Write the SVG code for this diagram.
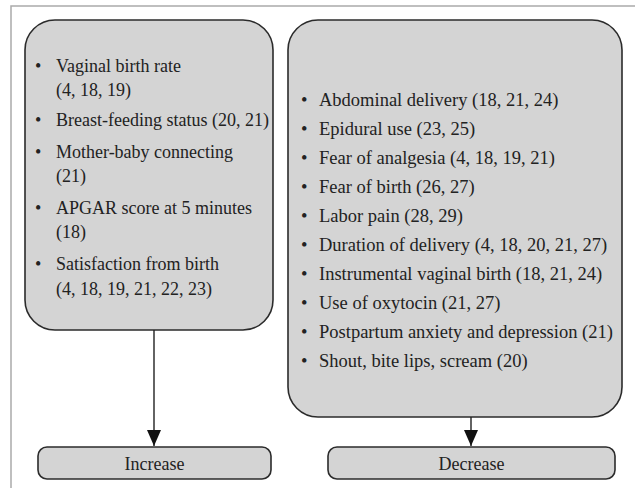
<svg xmlns="http://www.w3.org/2000/svg" width="635" height="488" viewBox="0 0 635 488">
<style>
.box{fill:#d4d4d4;stroke:#2b2b2b;stroke-width:1.6}
.conn{stroke:#222;stroke-width:1.4;fill:none}
</style>
<defs>
<marker id="ah" markerWidth="16" markerHeight="14" refX="16" refY="7" orient="auto" markerUnits="userSpaceOnUse" viewBox="0 0 16 14">
<path d="M0,0 L16,7 L0,14 Z" fill="#111"/>
</marker>
</defs>
<rect width="635" height="488" fill="#fff"/>
<path d="M11,488 V6 H635" fill="none" stroke="#aaa" stroke-width="1.5"/>
<g id="increase-factors">
<rect class="box" x="25" y="20" width="248" height="310" rx="30" ry="30"/>
<text x="35" y="72" font-family="Liberation Serif" font-size="18" fill="#222">•</text>
<text x="56" y="72" font-family="Liberation Serif" font-size="18" fill="#222">Vaginal birth rate</text>
<text x="56" y="96" font-family="Liberation Serif" font-size="18" fill="#222">(4, 18, 19)</text>
<text x="35" y="126" font-family="Liberation Serif" font-size="18" fill="#222">•</text>
<text x="56" y="126" font-family="Liberation Serif" font-size="18" fill="#222">Breast-feeding status (20, 21)</text>
<text x="35" y="158" font-family="Liberation Serif" font-size="18" fill="#222">•</text>
<text x="56" y="158" font-family="Liberation Serif" font-size="18" fill="#222">Mother-baby connecting</text>
<text x="56" y="182" font-family="Liberation Serif" font-size="18" fill="#222">(21)</text>
<text x="35" y="214" font-family="Liberation Serif" font-size="18" fill="#222">•</text>
<text x="56" y="214" font-family="Liberation Serif" font-size="18" fill="#222">APGAR score at 5 minutes</text>
<text x="56" y="238" font-family="Liberation Serif" font-size="18" fill="#222">(18)</text>
<text x="35" y="270" font-family="Liberation Serif" font-size="18" fill="#222">•</text>
<text x="56" y="270" font-family="Liberation Serif" font-size="18" fill="#222">Satisfaction from birth</text>
<text x="56" y="295" font-family="Liberation Serif" font-size="18" fill="#222">(4, 18, 19, 21, 22, 23)</text>
</g>
<g id="decrease-factors">
<rect class="box" x="288" y="20" width="334" height="397" rx="30" ry="30"/>
<text x="301" y="106" font-family="Liberation Serif" font-size="18.5" fill="#222">•</text>
<text x="319" y="106" font-family="Liberation Serif" font-size="18.5" fill="#222">Abdominal delivery (18, 21, 24)</text>
<text x="301" y="135" font-family="Liberation Serif" font-size="18.5" fill="#222">•</text>
<text x="319" y="135" font-family="Liberation Serif" font-size="18.5" fill="#222">Epidural use (23, 25)</text>
<text x="301" y="164" font-family="Liberation Serif" font-size="18.5" fill="#222">•</text>
<text x="319" y="164" font-family="Liberation Serif" font-size="18.5" fill="#222">Fear of analgesia (4, 18, 19, 21)</text>
<text x="301" y="193" font-family="Liberation Serif" font-size="18.5" fill="#222">•</text>
<text x="319" y="193" font-family="Liberation Serif" font-size="18.5" fill="#222">Fear of birth (26, 27)</text>
<text x="301" y="222" font-family="Liberation Serif" font-size="18.5" fill="#222">•</text>
<text x="319" y="222" font-family="Liberation Serif" font-size="18.5" fill="#222">Labor pain (28, 29)</text>
<text x="301" y="251" font-family="Liberation Serif" font-size="18.5" fill="#222">•</text>
<text x="319" y="251" font-family="Liberation Serif" font-size="18.5" fill="#222">Duration of delivery (4, 18, 20, 21, 27)</text>
<text x="301" y="280" font-family="Liberation Serif" font-size="18.5" fill="#222">•</text>
<text x="319" y="280" font-family="Liberation Serif" font-size="18.5" fill="#222">Instrumental vaginal birth (18, 21, 24)</text>
<text x="301" y="309" font-family="Liberation Serif" font-size="18.5" fill="#222">•</text>
<text x="319" y="309" font-family="Liberation Serif" font-size="18.5" fill="#222">Use of oxytocin (21, 27)</text>
<text x="301" y="338" font-family="Liberation Serif" font-size="18.5" fill="#222">•</text>
<text x="319" y="338" font-family="Liberation Serif" font-size="18.5" fill="#222">Postpartum anxiety and depression (21)</text>
<text x="301" y="367" font-family="Liberation Serif" font-size="18.5" fill="#222">•</text>
<text x="319" y="367" font-family="Liberation Serif" font-size="18.5" fill="#222">Shout, bite lips, scream (20)</text>
</g>
<g id="increase">
<rect class="box" x="38" y="447" width="233" height="32" rx="9" ry="9"/>
<text x="154.5" y="470" text-anchor="middle" font-family="Liberation Serif" font-size="18" fill="#222">Increase</text>
</g>
<g id="decrease">
<rect class="box" x="328" y="447" width="287" height="32" rx="9" ry="9"/>
<text x="471.5" y="470" text-anchor="middle" font-family="Liberation Serif" font-size="18" fill="#222">Decrease</text>
</g>
<g id="connectors">
<line class="conn" x1="154" y1="330" x2="154" y2="446" marker-end="url(#ah)"/>
<line class="conn" x1="471" y1="417" x2="471" y2="446" marker-end="url(#ah)"/>
</g>
</svg>
